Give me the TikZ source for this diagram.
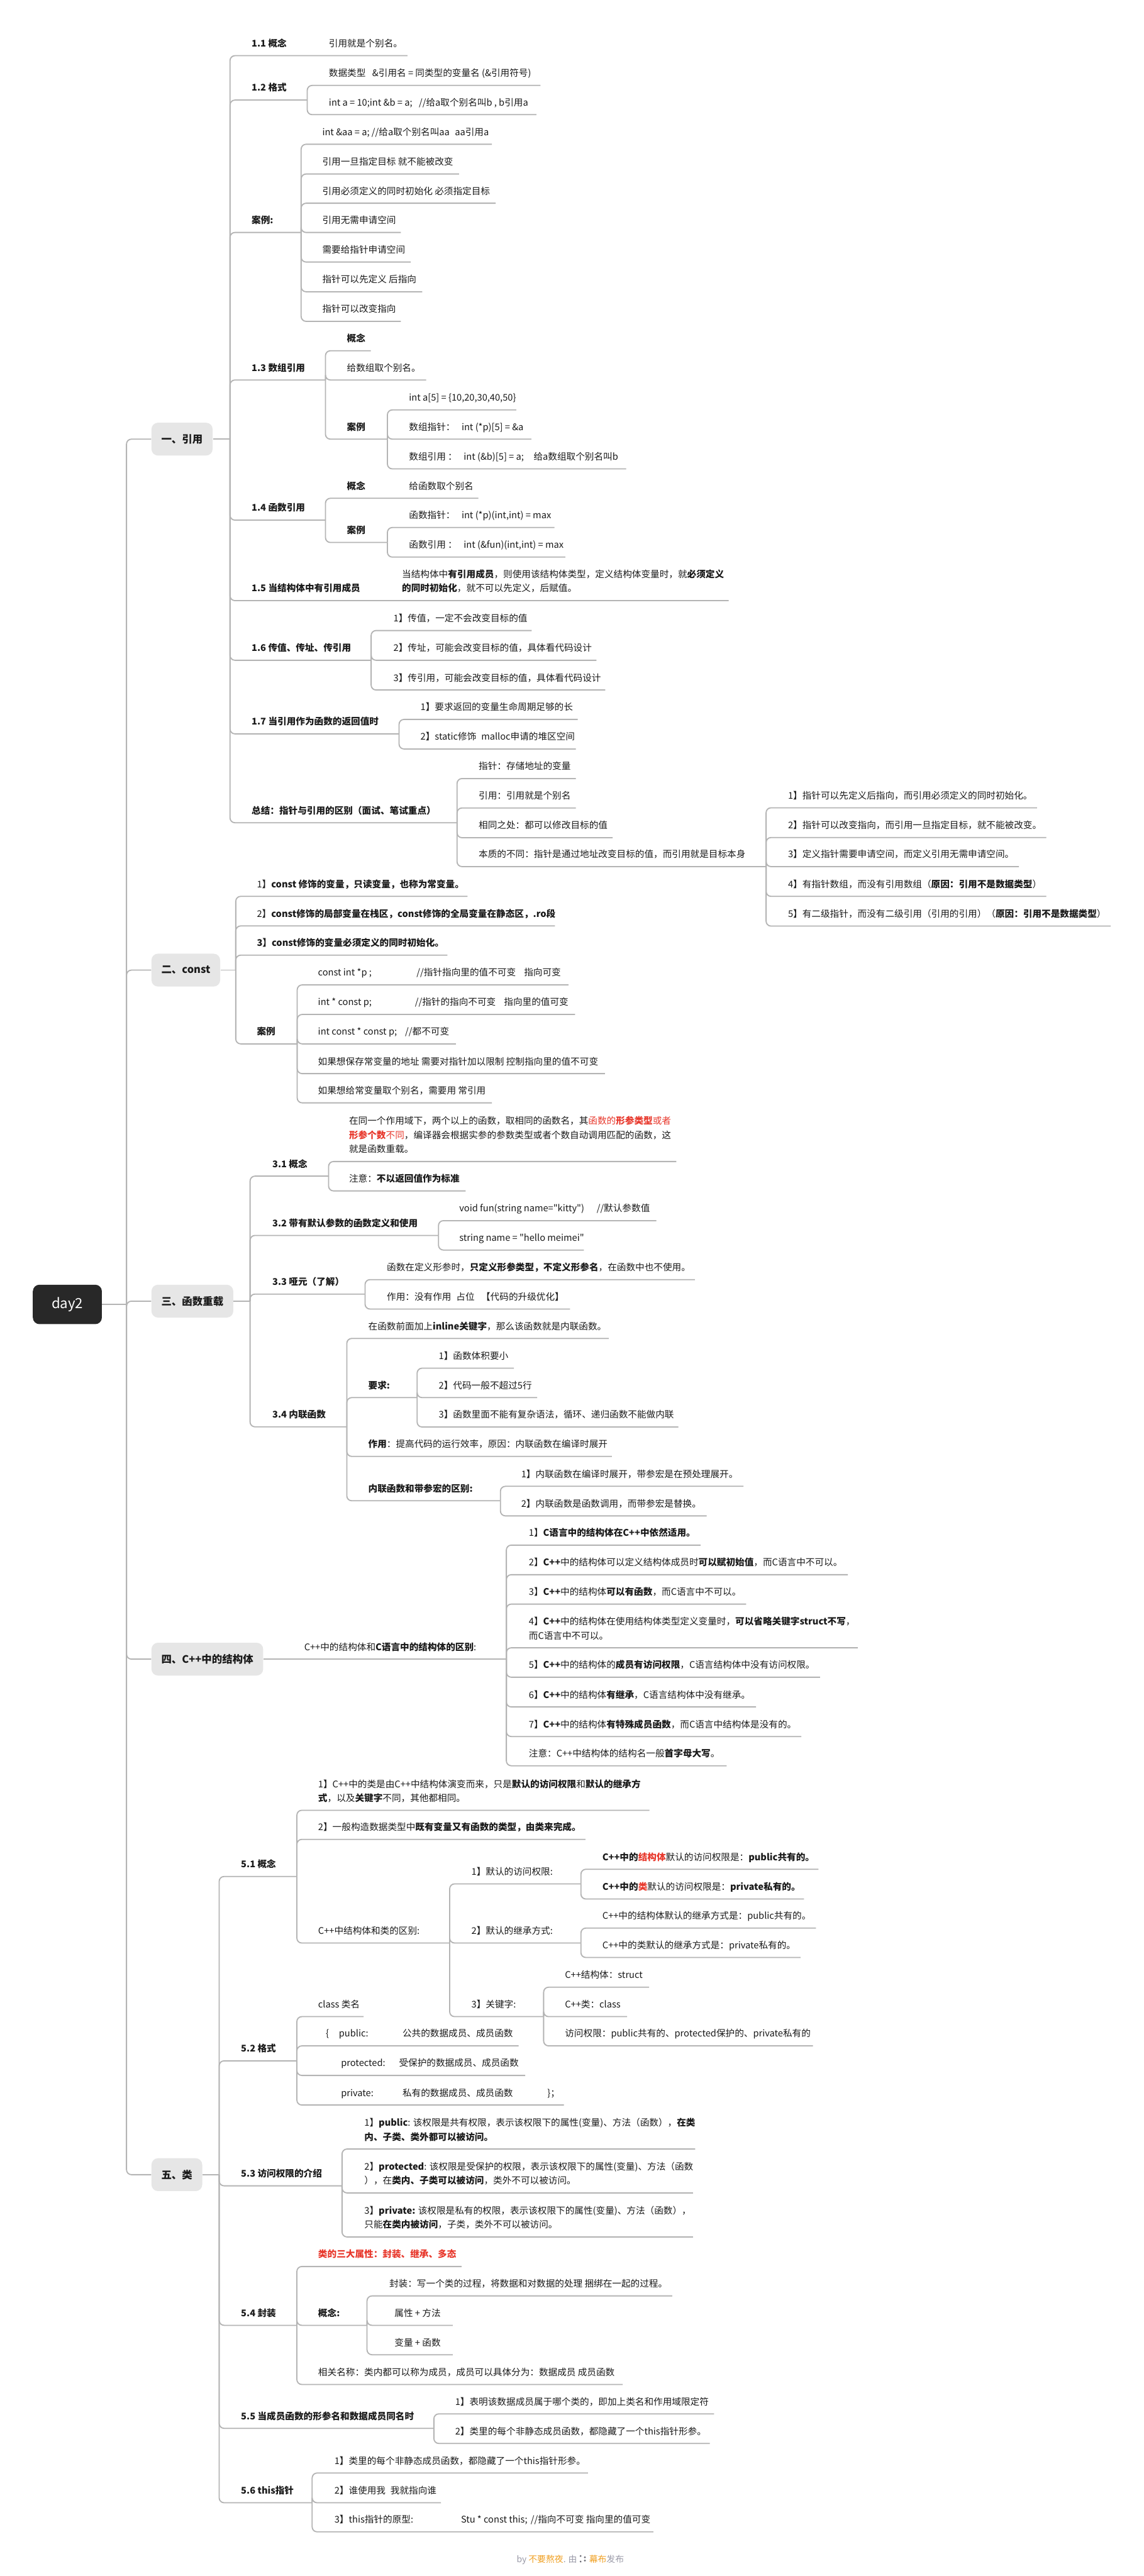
\documentclass[tikz,border=0pt]{standalone}
\usepackage{fontspec}
\setmainfont{Noto Sans CJK SC}[Ligatures=TeXOff]
\definecolor{lc}{HTML}{B4B4B4}
\definecolor{tc}{HTML}{1A1A1A}
\definecolor{boxc}{HTML}{E6E6E6}
\definecolor{rootc}{HTML}{282828}
\definecolor{red1}{HTML}{E8382C}
\definecolor{org}{HTML}{F0A022}
\definecolor{gry}{HTML}{9A9AA8}
\newcommand\fs{\fontsize{5.6}{8.5}\selectfont}
\tikzset{
 ln/.style={draw=lc, line width=0.7pt, rounded corners=3pt},
 tx/.style={anchor=base west, inner sep=0pt, font=\fs, text=tc},
 lbox/.style={fill=boxc, rounded corners=4pt, inner xsep=6pt, inner ysep=0pt, minimum height=20pt, anchor=west, font=\fontsize{6.3}{7}\selectfont\bfseries, text=tc},
 rootbox/.style={fill=rootc, rounded corners=4pt, minimum width=42pt, minimum height=24pt, inner sep=0pt, font=\fontsize{8.5}{9}\selectfont, text=white},
}
\newcommand\mmT[5]{\node[tx] (#1) at (#2,#3-5.4) {#5};\coordinate (#1-e) at (#4,#3);}
\newcommand\mmTT[6]{\node[tx] (#1) at (#2,#3-13.9) {#5};\node[tx] (#1-2) at (#2,#3-5.4) {#6};\coordinate (#1-e) at (#4,#3);}
\newcommand\mmC[2]{\foreach \kid in {#2}{\draw[ln] (#1-e) |- (\kid-e);}}
\begin{document}
\begin{tikzpicture}[x=1pt,y=-1pt]
\useasboundingbox (0,0) rectangle (696,1568);
\fill[white] (0,0) rectangle (696,1568);
% root and level 1
\node[rootbox] (day2) at (41,794) {day2};
\coordinate (r-e) at (77,794);
\node[lbox] (L1) at (92,267.3) {一、引用};
\node[lbox] (L2) at (92,590.5) {二、const};
\node[lbox] (L3) at (92,792) {三、函数重载};
\node[lbox] (L4) at (92,1009.9) {四、C++中的结构体};
\node[lbox] (L5) at (92,1323.7) {五、类};
\draw[ln] (day2.east) -- (r-e);
\foreach \n in {L1,L2,L3,L4,L5}{\draw[ln] (r-e) |- (\n.west);}
\coordinate (L1-e) at (140,267.3);
\coordinate (L2-e) at (143.5,590.5);
\coordinate (L3-e) at (152.2,792);
\coordinate (L5-e) at (133.4,1323.7);
\draw[ln] (L1.east) -- (L1-e);
\draw[ln] (L2.east) -- (L2-e);
\draw[ln] (L3.east) -- (L3-e);
\draw[ln] (L5.east) -- (L5-e);

% ===== section 1
\mmT{a1}{153}{33.9}{248}{\textbf{1.1 概念}}
\node[tx] (a1c) at (200,33.9-5.4) {引用就是个别名。};
\mmT{a2}{153}{60.9}{187}{\textbf{1.2 格式}}
\mmT{a21}{200}{52}{329}{数据类型\hspace{4pt}\&引用名 = 同类型的变量名 (\&引用符号)}
\mmT{a22}{200}{69.8}{326.5}{int a = 10;int \&b = a;\hspace{4pt}//给a取个别名叫b , b引用a}
\mmT{a3}{153}{141.5}{183.3}{\textbf{案例:}}
\mmT{a31}{196}{87.8}{299.4}{int \&aa = a; //给a取个别名叫aa\hspace{2pt} aa引用a}
\mmT{a32}{196}{105.9}{279.4}{引用一旦指定目标 就不能被改变}
\mmT{a33}{196}{123.7}{301.7}{引用必须定义的同时初始化 必须指定目标}
\mmT{a34}{196}{141.5}{244}{引用无需申请空间}
\mmT{a35}{196}{159.5}{250}{需要给指针申请空间}
\mmT{a36}{196}{177.6}{257}{指针可以先定义 后指向}
\mmT{a37}{196}{195.6}{244}{指针可以改变指向}
\mmT{a4}{153}{231.3}{198.1}{\textbf{1.3 数组引用}}
\mmT{a41}{211}{213.5}{225.7}{\textbf{概念}}
\mmT{a42}{211}{231.3}{259.4}{给数组取个别名。}
\mmT{a43}{211}{267.3}{235.8}{\textbf{案例}}
\mmT{a431}{248.8}{249.5}{314.2}{int a[5] = \{10,20,30,40,50\}}
\mmT{a432}{248.8}{267.3}{323.4}{数组指针：\hspace{4pt}int (*p)[5] = \&a}
\mmT{a433}{248.8}{285.4}{381.1}{数组引用 ：\hspace{4pt}int (\&b)[5] = a;\hspace{6pt}给a数组取个别名叫b}
\mmT{a5}{153}{316.6}{198.1}{\textbf{1.4 函数引用}}
\mmT{a51}{211}{303.3}{291.2}{\textbf{概念}}
\node[tx] (a51c) at (248.8,303.3-5.4) {给函数取个别名};
\mmT{a52}{211}{330.2}{235.8}{\textbf{案例}}
\mmT{a521}{248.8}{321.1}{337.5}{函数指针：\hspace{4pt}int (*p)(int,int) = max}
\mmT{a522}{248.8}{339.1}{344.1}{函数引用 ：\hspace{4pt}int (\&fun)(int,int) = max}
\mmT{a6}{153}{365.6}{443.5}{\textbf{1.5 当结构体中有引用成员}}
\node[tx] (a6c) at (244.5,365.6-13.9) {当结构体中\textbf{有引用成员}，则使用该结构体类型，定义结构体变量时，就\textbf{必须定义}};
\node[tx] (a6c2) at (244.5,365.6-5.4) {\textbf{的同时初始化}，就不可以先定义，后赋值。};
\mmT{a7}{153}{401.9}{225.9}{\textbf{1.6 传值、传址、传引用}}
\mmT{a71}{239.3}{383.8}{323.6}{1】传值，一定不会改变目标的值}
\mmT{a72}{239.3}{401.9}{363}{2】传址，可能会改变目标的值，具体看代码设计}
\mmT{a73}{239.3}{420}{368.4}{3】传引用，可能会改变目标的值，具体看代码设计}
\mmT{a8}{153}{446.7}{242.9}{\textbf{1.7 当引用作为函数的返回值时}}
\mmT{a81}{255.8}{437.9}{351.7}{1】要求返回的变量生命周期足够的长}
\mmT{a82}{255.8}{455.9}{350.5}{2】static修饰\hspace{3pt}malloc申请的堆区空间}
\mmT{a9}{153}{500.8}{278.2}{\textbf{总结：指针与引用的区别（面试、笔试重点）}}
\mmT{a91}{291.2}{473.9}{350.5}{指针：存储地址的变量}
\mmT{a92}{291.2}{491.8}{350.5}{引用：引用就是个别名}
\mmT{a93}{291.2}{509.9}{372.9}{相同之处：都可以修改目标的值}
\mmT{a94}{291.2}{527.5}{466.3}{本质的不同：指针是通过地址改变目标的值，而引用就是目标本身}
\mmT{a941}{479.5}{491.7}{631.2}{1】指针可以先定义后指向，而引用必须定义的同时初始化。}
\mmT{a942}{479.5}{509.8}{636.8}{2】指针可以改变指向，而引用一旦指定目标，就不能被改变。}
\mmT{a943}{479.5}{527.5}{620.2}{3】定义指针需要申请空间，而定义引用无需申请空间。}
\mmT{a944}{479.5}{545.6}{636.8}{4】有指针数组，而没有引用数组（\textbf{原因：引用不是数据类型}）}
\mmT{a945}{479.5}{563.7}{676.1}{5】有二级指针，而没有二级引用（引用的引用）（\textbf{原因：引用不是数据类型}）}
\mmC{L1}{a1,a2,a3,a4,a5,a6,a7,a8,a9}
\mmC{a2}{a21,a22}
\mmC{a3}{a31,a32,a33,a34,a35,a36,a37}
\mmC{a4}{a41,a42,a43}
\mmC{a43}{a431,a432,a433}
\mmC{a5}{a51,a52}
\mmC{a52}{a521,a522}
\mmC{a7}{a71,a72,a73}
\mmC{a8}{a81,a82}
\mmC{a9}{a91,a92,a93,a94}
\mmC{a94}{a941,a942,a943,a944,a945}

% ===== section 2
\mmT{b1}{156.2}{545.6}{284.6}{1】\textbf{const 修饰的变量，只读变量，也称为常变量。}}
\mmT{b2}{156.2}{563.6}{337.8}{2】\textbf{const修饰的局部变量在栈区，const修饰的全局变量在静态区，.ro段}}
\mmT{b3}{156.2}{581.4}{272.3}{\textbf{3】const修饰的变量必须定义的同时初始化。}}
\mmT{b4}{156.2}{635.4}{180.9}{\textbf{案例}}
\mmT{b41}{193.4}{599.5}{346}{\makebox[60pt][l]{const int *p ;}//指针指向里的值不可变\hspace{5pt}指向可变}
\mmT{b42}{193.4}{617.5}{350}{\makebox[59pt][l]{int * const p;}//指针的指向不可变\hspace{5pt}指向里的值可变}
\mmT{b43}{193.4}{635.4}{277.5}{\makebox[53pt][l]{int const * const p;}//都不可变}
\mmT{b44}{193.4}{653.5}{368.2}{如果想保存常变量的地址 需要对指针加以限制 控制指向里的值不可变}
\mmT{b45}{193.4}{671.3}{299.4}{如果想给常变量取个别名，需要用 常引用}
\mmC{L2}{b1,b2,b3,b4}
\mmC{b4}{b41,b42,b43,b44,b45}

% ===== section 3
\mmT{c1}{165.6}{715.9}{200}{\textbf{3.1 概念}}
\node[tx] (c11) at (212.3,707-22.8) {在同一个作用域下，两个以上的函数，取相同的函数名，其\textcolor{red1}{函数的\textbf{形参类型}或者}};
\node[tx] (c11b) at (212.3,707-14.1) {\textcolor{red1}{\textbf{形参个数}不同}，编译器会根据实参的参数类型或者个数自动调用匹配的函数，这};
\node[tx] (c11c) at (212.3,707-5.4) {就是函数重载。};
\coordinate (c11-e) at (411.7,707);
\mmT{c12}{212.3}{724.9}{283.4}{注意：\textbf{不以返回值作为标准}}
\mmT{c2}{165.6}{752}{266.9}{\textbf{3.2 带有默认参数的函数定义和使用}}
\mmT{c21}{279.4}{743}{399.5}{\makebox[83.6pt][l]{void fun(string name="kitty")}//默认参数值}
\mmT{c22}{279.4}{760.9}{355.4}{string name = "hello meimei"}
\mmT{c3}{165.6}{787.7}{222.2}{\textbf{3.3 哑元（了解）}}
\mmT{c31}{235.3}{778.9}{423}{函数在定义形参时，\textbf{只定义形参类型，不定义形参名}，在函数中也不使用。}
\mmT{c32}{235.3}{796.8}{347}{作用：没有作用\hspace{3pt}占位\hspace{4pt}【代码的升级优化】}
\mmT{c4}{165.6}{868.5}{211.1}{\textbf{3.4 内联函数}}
\mmT{c41}{224}{814.7}{370.5}{在函数前面加上\textbf{inline关键字}，那么该函数就是内联函数。}
\mmT{c42}{224}{850.7}{253.9}{\textbf{要求:}}
\mmT{c421}{266.9}{832.8}{312.8}{1】函数体积要小}
\mmT{c422}{266.9}{850.7}{327}{2】代码一般不超过5行}
\mmT{c423}{266.9}{868.6}{412.9}{3】函数里面不能有复杂语法，循环、递归函数不能做内联}
\mmT{c43}{224}{886.5}{372.4}{\textbf{作用}：提高代码的运行效率，原因：内联函数在编译时展开}
\mmT{c44}{224}{913.5}{304.6}{\textbf{内联函数和带参宏的区别:}}
\mmT{c441}{317.1}{904.7}{452.5}{1】内联函数在编译时展开，带参宏是在预处理展开。}
\mmT{c442}{317.1}{922.7}{430.1}{2】内联函数是函数调用，而带参宏是替换。}
\mmC{L3}{c1,c2,c3,c4}
\mmC{c1}{c11,c12}
\mmC{c2}{c21,c22}
\mmC{c3}{c31,c32}
\mmC{c4}{c41,c42,c43,c44}
\mmC{c42}{c421,c422,c423}
\mmC{c44}{c441,c442}

% ===== section 4
\mmT{d1}{185}{1009.9}{308.2}{C++中的结构体和\textbf{C语言中的结构体的区别}:}
\draw[ln] (L4.east) -- (d1-e);
\mmT{d11}{321.7}{940.5}{426.4}{1】\textbf{C语言中的结构体在C++中依然适用。}}
\mmT{d12}{321.7}{958.5}{516.1}{2】\textbf{C++}中的结构体可以定义结构体成员时\textbf{可以赋初始值}，而C语言中不可以。}
\mmT{d13}{321.7}{976.4}{454.2}{3】\textbf{C++}中的结构体\textbf{可以有函数}，而C语言中不可以。}
\mmTT{d14}{321.7}{1003}{522.1}{4】\textbf{C++}中的结构体在使用结构体类型定义变量时，\textbf{可以省略关键字struct不写}，}{而C语言中不可以。}
\mmT{d15}{321.7}{1020.9}{499.1}{5】\textbf{C++}中的结构体的\textbf{成员有访问权限}，C语言结构体中没有访问权限。}
\mmT{d16}{321.7}{1039}{460.2}{6】\textbf{C++}中的结构体\textbf{有继承}，C语言结构体中没有继承。}
\mmT{d17}{321.7}{1057}{487.7}{7】\textbf{C++}中的结构体\textbf{有特殊成员函数}，而C语言中结构体是没有的。}
\mmT{d18}{321.7}{1074.8}{442.3}{注意：C++中结构体的结构名一般\textbf{首字母大写}。}
\mmC{d1}{d11,d12,d13,d14,d15,d16,d17,d18}

% ===== section 5
\mmT{e1}{146.5}{1142.2}{180.7}{\textbf{5.1 概念}}
\mmTT{e11}{193.5}{1101.9}{395.3}{1】C++中的类是由C++中结构体演变而来，只是\textbf{默认的访问权限}和\textbf{默认的继承方}}{\textbf{式}，以及\textbf{关键字}不同，其他都相同。}
\mmT{e12}{193.5}{1119.6}{356.3}{2】一般构造数据类型中\textbf{既有变量又有函数的类型，由类来完成。}}
\mmT{e13}{193.5}{1182.7}{273.7}{C++中结构体和类的区别:}
\mmT{e131}{286.8}{1146.7}{353.6}{1】默认的访问权限:}
\mmT{e1311}{366.5}{1137.8}{498.2}{\textbf{C++中的}\textcolor{red1}{\textbf{结构体}}默认的访问权限是：\textbf{public共有的。}}
\mmT{e1312}{366.5}{1155.9}{489.4}{\textbf{C++中的}\textcolor{red1}{\textbf{类}}默认的访问权限是：\textbf{private私有的。}}
\mmT{e132}{286.8}{1182.7}{353.6}{2】默认的继承方式:}
\mmT{e1321}{366.5}{1173.6}{496.6}{C++中的结构体默认的继承方式是：public共有的。}
\mmT{e1322}{366.5}{1191.5}{487.3}{C++中的类默认的继承方式是：private私有的。}
\mmT{e133}{286.8}{1227.5}{330.9}{3】关键字:}
\mmT{e1331}{343.7}{1209.6}{395.1}{C++结构体：struct}
\mmT{e1332}{343.7}{1227.5}{381.7}{C++类：class}
\mmT{e1333}{343.7}{1245.3}{494.8}{访问权限：public共有的、protected保护的、private私有的}
\mmT{e2}{146.5}{1254.4}{180.7}{\textbf{5.2 格式}}
\mmT{e21}{193.5}{1227.5}{221.3}{class 类名}
\mmT{e22}{198.1}{1245.3}{315.7}{\makebox[8pt][l]{\{}\makebox[38.7pt][l]{public:}公共的数据成员、成员函数}
\mmT{e23}{207.4}{1263.3}{319.7}{\makebox[35.3pt][l]{protected:}受保护的数据成员、成员函数}
\mmT{e24}{207.4}{1281.3}{343.2}{\makebox[37.4pt][l]{private:}\makebox[88.2pt][l]{私有的数据成员、成员函数}\}；}
\mmT{e3}{146.5}{1330.5}{208.2}{\textbf{5.3 访问权限的介绍}}
\mmTT{e31}{221.6}{1308.1}{423.1}{1】\textbf{public}: 该权限是共有权限，表示该权限下的属性(变量)、方法（函数），\textbf{在类}}{\textbf{内、子类、类外都可以被访问。}}
\mmTT{e32}{221.6}{1334.8}{421.8}{2】\textbf{protected}: 该权限是受保护的权限，表示该权限下的属性(变量)、方法（函数}{），在\textbf{类内、子类可以被访问}，类外不可以被访问。}
\mmTT{e33}{221.6}{1361.6}{421.8}{3】\textbf{private:} 该权限是私有的权限，表示该权限下的属性(变量)、方法（函数），}{只能\textbf{在类内被访问}，子类，类外不可以被访问。}
\mmT{e4}{146.5}{1415.4}{180.7}{\textbf{5.4 封装}}
\mmT{e41}{193.5}{1379.6}{280.9}{\textcolor{red1}{\textbf{类的三大属性：封装、继承、多态}}}
\mmT{e42}{193.5}{1415.4}{223.4}{\textbf{概念:}}
\mmT{e421}{236.8}{1397.5}{409.2}{封装：写一个类的过程，将数据和对数据的处理 捆绑在一起的过程。}
\mmT{e422}{240}{1415.4}{275.6}{属性 + 方法}
\mmT{e423}{240}{1433.3}{275.6}{变量 + 函数}
\mmT{e43}{193.5}{1451.4}{379}{相关名称：类内都可以称为成员，成员可以具体分为：数据成员 成员函数}
\mmT{e5}{146.5}{1478.1}{264.1}{\textbf{5.5 当成员函数的形参名和数据成员同名时}}
\mmT{e51}{276.9}{1469.3}{434.6}{1】表明该数据成员属于哪个类的，即加上类名和作用域限定符}
\mmT{e52}{276.9}{1487.3}{432}{2】类里的每个非静态成员函数，都隐藏了一个this指针形参。}
\mmT{e6}{146.5}{1523.4}{190}{\textbf{5.6 this指针}}
\mmT{e61}{203.4}{1505.3}{357.9}{1】类里的每个非静态成员函数，都隐藏了一个this指针形参。}
\mmT{e62}{203.4}{1523.4}{268.4}{2】谁使用我\hspace{3pt}我就指向谁}
\mmT{e63}{203.4}{1541.1}{397.7}{\makebox[77pt][l]{3】this指针的原型:}Stu * const this;\hspace{2pt}//指向不可变 指向里的值可变}
\mmC{L5}{e1,e2,e3,e4,e5,e6}
\mmC{e1}{e11,e12,e13}
\mmC{e13}{e131,e132,e133}
\mmC{e131}{e1311,e1312}
\mmC{e132}{e1321,e1322}
\mmC{e133}{e1331,e1332,e1333}
\mmC{e2}{e21,e22,e23,e24}
\mmC{e3}{e31,e32,e33}
\mmC{e4}{e41,e42,e43}
\mmC{e42}{e421,e422,e423}
\mmC{e5}{e51,e52}
\mmC{e6}{e61,e62,e63}

% footer
\node[tx, font=\fontsize{5.3}{6}\selectfont] (f1) at (314.3,1559.8) {\textcolor{gry}{by }\textcolor{org}{不要熬夜}\textcolor{gry}{. 由}};
\node[tx, font=\fontsize{5.3}{6}\selectfont] (f2) at (358.4,1559.8) {\textcolor{org}{幕布}\textcolor{gry}{发布}};
\foreach \p in {(353.4,1555.8),(353.4,1559.2),(356,1556.6),(356,1558.6)}{\fill[gry!70!black] \p circle (0.6);}
\end{tikzpicture}
\end{document}
